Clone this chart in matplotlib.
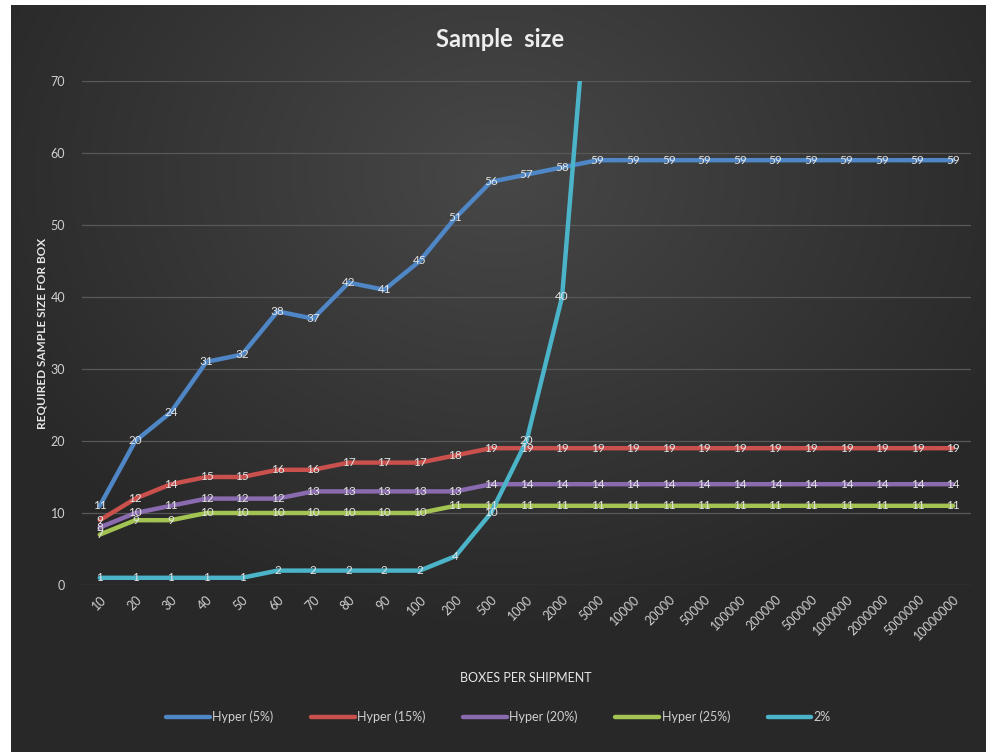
import numpy as np
import matplotlib
matplotlib.use("Agg")
import matplotlib.pyplot as plt

plt.rcParams['font.family'] = ['Lato', 'DejaVu Sans']

boxes = ["10", "20", "30", "40", "50", "60", "70", "80", "90", "100", "200", "500",
         "1000", "2000", "5000", "10000", "20000", "50000", "100000", "200000",
         "500000", "1000000", "2000000", "5000000", "10000000"]

hyper5 = [11, 20, 24, 31, 32, 38, 37, 42, 41, 45, 51, 56, 57, 58,
          59, 59, 59, 59, 59, 59, 59, 59, 59, 59, 59]
hyper15 = [9, 12, 14, 15, 15, 16, 16, 17, 17, 17, 18, 19, 19, 19,
           19, 19, 19, 19, 19, 19, 19, 19, 19, 19, 19]
hyper20 = [8, 10, 11, 12, 12, 12, 13, 13, 13, 13, 13, 14, 14, 14,
           14, 14, 14, 14, 14, 14, 14, 14, 14, 14, 14]
hyper25 = [7, 9, 9, 10, 10, 10, 10, 10, 10, 10, 11, 11, 11, 11,
           11, 11, 11, 11, 11, 11, 11, 11, 11, 11, 11]
pct2 = [1, 1, 1, 1, 1, 2, 2, 2, 2, 2, 4, 10, 20, 40,
        100, 200, 400, 1000, 2000, 4000, 10000, 20000, 40000, 100000, 200000]

series = [
    ("Hyper (5%)", hyper5, "#4f86c6"),
    ("Hyper (15%)", hyper15, "#c9504d"),
    ("Hyper (20%)", hyper20, "#8a6bb0"),
    ("Hyper (25%)", hyper25, "#a3c452"),
    ("2%", pct2, "#4bb4c9"),
]

fig = plt.figure(figsize=(9.87, 7.52), dpi=100, facecolor="white")

# dark panel with a soft radial gradient
bg = fig.add_axes([11 / 987, 0, 976 / 987, 747 / 752], zorder=-5)
gy, gx = np.mgrid[-1:1:300j, -1:1:400j]
r = np.sqrt((gx * 0.95) ** 2 + ((gy + 0.55) * 0.9) ** 2)
shade = np.clip(0.28 - 0.11 * r, 0.16, 0.285)
bg.imshow(np.dstack([shade] * 3), aspect="auto", extent=[0, 1, 0, 1],
          interpolation="bilinear")
bg.axis("off")

ax = fig.add_axes([82 / 987, 1 - 585 / 752, 889 / 987, 504 / 752])
ax.set_facecolor("none")

x = np.arange(len(boxes))
for name, vals, col in series:
    ax.plot(x, vals, color=col, lw=3.2, label=name, solid_capstyle="round",
            solid_joinstyle="round", zorder=3)
    for xi, v in zip(x, vals):
        if v <= 70:
            ax.text(xi, v, str(v), ha="center", va="center", fontsize=8.5,
                    color="#e4e4e4", zorder=4)

ax.set_xlim(-0.5, len(boxes) - 0.5)
ax.set_ylim(0, 70)
ax.set_yticks(range(0, 71, 10))
ax.set_xticks(x)
ax.set_xticklabels(boxes, rotation=45, ha="right", rotation_mode="anchor",
                   fontsize=9, color="#cfcfcf")
ax.tick_params(axis="y", labelsize=9, labelcolor="#cfcfcf", length=0, pad=12)
ax.tick_params(axis="x", length=0, pad=6)
ax.grid(axis="y", color="#585858", lw=0.9)
ax.set_axisbelow(True)
for s in ax.spines.values():
    s.set_visible(False)

fig.text(0.507, 0.947, "Sample  size", ha="center", va="center", fontsize=17,
         fontweight="bold", color="#eeeeee")
fig.text(0.043, 0.557, "REQUIRED SAMPLE SIZE FOR BOX", rotation=90, ha="center",
         va="center", fontsize=8.5, fontweight="bold", color="#e6e6e6")
fig.text(0.533, 0.098, "BOXES PER SHIPMENT", ha="center", va="center",
         fontsize=9, color="#e6e6e6")

leg = fig.legend(loc="center", bbox_to_anchor=(0.505, 0.047), ncol=5,
                 frameon=False, fontsize=9, handlelength=3.5,
                 columnspacing=3.0, handletextpad=0.2)
for t in leg.get_texts():
    t.set_color("#cfcfcf")

fig.savefig("out.png", dpi=100, facecolor="white")
